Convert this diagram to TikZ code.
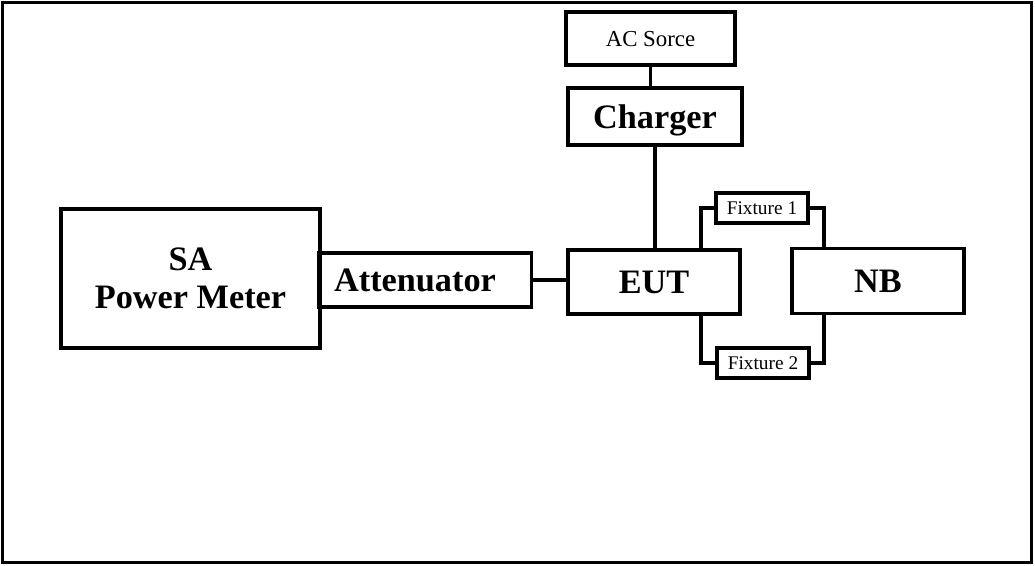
\documentclass[tikz,border=0pt]{standalone}
\usepackage{fontspec}
\setmainfont{Liberation Serif}
\usepackage{tikz}

\begin{document}
\begin{tikzpicture}[x=0.02cm, y=-0.02cm, every node/.style={font=\fontsize{19.5}{21.5}\selectfont\bfseries}, blk/.style={draw,line width=2pt,inner sep=0pt,align=center}, srcbox/.style={blk,text depth=0pt,font=\fontsize{13}{15}\selectfont}, fixbox/.style={blk,text depth=0pt,line width=1.8pt,minimum width=1.84cm,minimum height=0.6cm,font=\fontsize{11}{13}\selectfont}, wire/.style={line width=2pt}]
\useasboundingbox (0,0) rectangle (1035,565);
\draw[line width=2.2pt] (2.5,2.5) rectangle (1031.5,562.5);
\node[srcbox,minimum width=3.38cm,minimum height=1.06cm] (ac) at (650.5,38.5) {AC Sorce};
\node[blk,text depth=0pt,minimum width=3.48cm,minimum height=1.14cm] (chg) at (655,116.5) {Charger};
\node[blk,minimum width=3.44cm,minimum height=1.28cm] (eut) at (654,282) {EUT};
\node[blk,minimum width=3.44cm,minimum height=1.30cm] (nb) at (878,281) {NB};
\node[blk,minimum width=5.18cm,minimum height=2.78cm] (sa) at (190.5,278.5) {SA\\Power Meter};
\node[blk,minimum width=4.26cm,minimum height=1.08cm] (att) at (425,280) {\hspace*{-0.4cm}Attenuator};
\node[fixbox] (fx1) at (762,208) {Fixture 1};
\node[fixbox] (fx2) at (763,363) {Fixture 2};
\coordinate (eutA) at (701,250);
\coordinate (eutB) at (701,314);
\coordinate (nbA) at (824,248.5);
\coordinate (nbB) at (824,313.5);
\draw[wire] (ac.south) -- (ac.south |- chg.north);
\draw[wire] (chg.south) -- (chg.south |- eut.north);
\draw[wire] (att.east) -- (att.east -| eut.west);
\foreach \x/\y in {fx1.west/eutA,fx1.east/nbA,fx2.west/eutB,fx2.east/nbB}{\draw[wire] (\x) -| (\y);}
\end{tikzpicture}
\end{document}
